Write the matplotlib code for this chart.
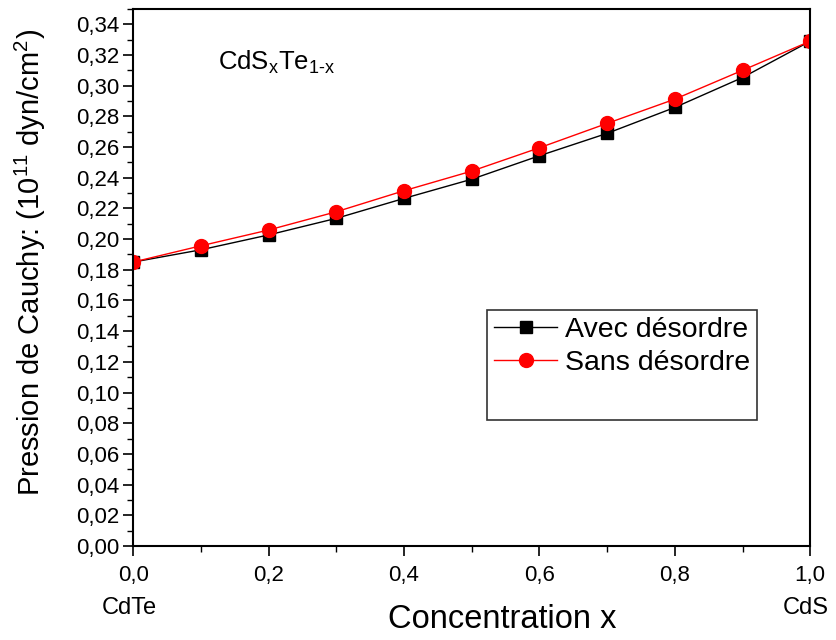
import matplotlib
matplotlib.use("Agg")
import matplotlib.pyplot as plt
from matplotlib.ticker import MultipleLocator, FuncFormatter
from matplotlib.patches import Rectangle

plt.rcParams['font.family'] = ['Liberation Sans', 'DejaVu Sans']
plt.rcParams['mathtext.fontset'] = 'custom'
plt.rcParams['mathtext.rm'] = 'Liberation Sans'
plt.rcParams['mathtext.it'] = 'Liberation Sans'

x = [0.0, 0.1, 0.2, 0.3, 0.4, 0.5, 0.6, 0.7, 0.8, 0.9, 1.0]
avec = [0.185, 0.193, 0.2027, 0.2135, 0.2265, 0.239, 0.2543, 0.2689, 0.2858, 0.3053, 0.329]
sans = [0.185, 0.1956, 0.2059, 0.2178, 0.2315, 0.2443, 0.2595, 0.2754, 0.2912, 0.3100, 0.329]
labels = ["Avec désordre", "Sans désordre"]

fig = plt.figure(figsize=(8.37, 6.4), dpi=100)
ax = fig.add_axes([0.159, 0.147, 0.809, 0.839])

ax.plot(x, avec, color='black', lw=1, marker='s', ms=8, label=labels[0])
ax.plot(x, sans, color='red', lw=1, marker='o', ms=10, label=labels[1])

ax.set_xlim(0, 1.0)
ax.set_ylim(0, 0.35)
ax.xaxis.set_major_locator(MultipleLocator(0.2))
ax.xaxis.set_minor_locator(MultipleLocator(0.1))
ax.yaxis.set_major_locator(MultipleLocator(0.02))
ax.yaxis.set_minor_locator(MultipleLocator(0.01))
ax.xaxis.set_major_formatter(FuncFormatter(lambda v, p: f"{v:.1f}".replace('.', ',')))
ax.yaxis.set_major_formatter(FuncFormatter(lambda v, p: f"{v:.2f}".replace('.', ',')))
ax.tick_params(which='major', direction='out', length=7, width=1.2, labelsize=16)
ax.tick_params(which='minor', direction='out', length=4, width=1.0)
ax.tick_params(axis='x', pad=7)
ax.tick_params(axis='y', pad=3)
for s in ax.spines.values():
    s.set_linewidth(1.5)

fig.text(30 / 837, 1 - 262 / 640,
         r'Pression de Cauchy: (10$^{\mathregular{11}}$ dyn/cm$^{\mathregular{2}}$)',
         fontsize=21, rotation=90, ha='center', va='center')
fig.text(502 / 837, 1 - 620 / 640, 'Concentration x', fontsize=23.5, ha='center', va='center')
fig.text(129 / 837, 1 - 608 / 640, 'CdTe', fontsize=17, ha='center', va='center')
fig.text(806 / 837, 1 - 608 / 640, 'CdS', fontsize=17, ha='center', va='center')

ax.text(0.1256, 0.901, r'CdS$_{\mathregular{x}}$Te$_{\mathregular{1\text{-}x}}$',
        transform=ax.transAxes, fontsize=18.5, va='center')

ax.add_patch(Rectangle((0.523, 0.235), 0.399, 0.204, transform=ax.transAxes,
                       fill=False, edgecolor='#333333', lw=1.2, zorder=5))
leg = ax.legend(loc='upper left', bbox_to_anchor=(0.523, 0.439), frameon=False,
                fontsize=20.5, handlelength=2.2, handletextpad=0.28, labelspacing=0.22,
                borderpad=0.25, borderaxespad=0)

fig.savefig('out.png', dpi=100)
